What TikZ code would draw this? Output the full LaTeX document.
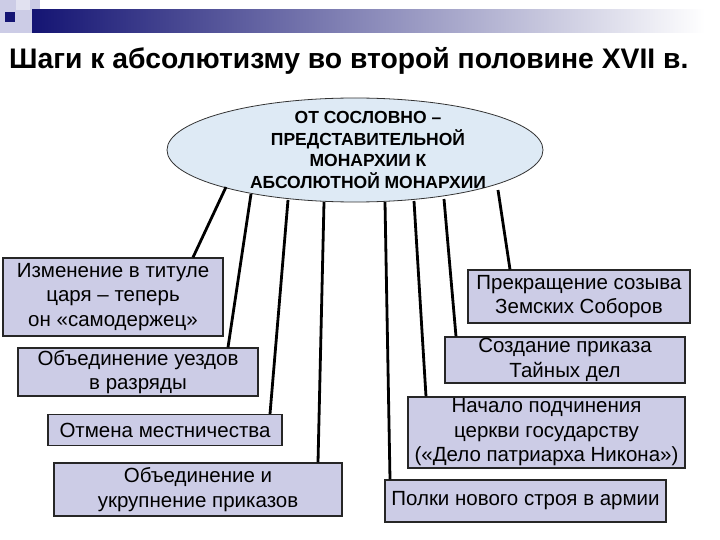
\documentclass[tikz,border=0pt]{standalone}
\usepackage{fontspec}
\setmainfont{Liberation Sans}
\usetikzlibrary{shapes.geometric}
\definecolor{lav}{RGB}{204,204,230}
\definecolor{lavlt}{RGB}{225,225,240}
\definecolor{navy}{RGB}{20,20,115}
\definecolor{elfill}{RGB}{222,234,245}
\begin{document}
\begin{tikzpicture}[x=1pt,y=-1pt,
  box/.style={draw=black!85,fill=lav,line width=1.2pt,inner sep=0pt,align=center,font=\fontsize{20.5}{24.5}\selectfont},
  con/.style={line width=2.8pt,black}]
\useasboundingbox (0,0) rectangle (720,540);
% decoration
\fill[lav] (0,0) rectangle (40,33);
\fill[lavlt] (16,0) rectangle (30,10);
\shade[left color=navy,right color=white] (32,10) rectangle (705,33);
\fill[navy] (5,12) rectangle (15,22);
\node[anchor=base west,inner sep=0pt,font=\bfseries\fontsize{28.3}{32}\selectfont] (title) at (9,69) {Шаги к абсолютизму во второй половине XVII в.};
% ellipse
\node[ellipse,draw=black!80,line width=0.8pt,fill=elfill,minimum width=376pt,minimum height=104pt,inner sep=0pt] (el) at (355,150) {};
\node[align=center,font=\bfseries\fontsize{17.5}{21.5}\selectfont] (eltext) at (368,150) {ОТ СОСЛОВНО –\\ПРЕДСТАВИТЕЛЬНОЙ\\МОНАРХИИ К\\АБСОЛЮТНОЙ МОНАРХИИ};
% boxes
\node[box,minimum width=220pt,minimum height=78pt] (b1) at (113,297) {Изменение в титуле\\царя – теперь\\он «самодержец»};
\node[box,minimum width=240pt,minimum height=48pt] (b2) at (138,372) {Объединение уездов\\в разряды};
\node[box,minimum width=234pt,minimum height=31pt] (b3) at (165,430) {Отмена местничества};
\node[box,minimum width=288pt,minimum height=53pt] (b4) at (198,489.5) {Объединение и\\укрупнение приказов};
\node[box,minimum width=222pt,minimum height=53pt] (b5) at (579,296.5) {Прекращение созыва\\Земских Соборов};
\node[box,minimum width=240pt,minimum height=46pt] (b6) at (565,360) {Создание приказа\\Тайных дел};
\node[box,minimum width=277pt,minimum height=71pt] (b7) at (546.5,432.5) {Начало подчинения\\церкви государству\\(«Дело патриарха Никона»)};
\node[box,minimum width=281pt,minimum height=42pt] (b8) at (525.5,501) {Полки нового строя в армии};
% connectors
\coordinate (s1) at (226,187);
\coordinate (s2) at (251,194);
\coordinate (s3) at (288,200);
\coordinate (s4) at (324,202);
\coordinate (s5) at (385,202);
\coordinate (s6) at (414,201);
\coordinate (s7) at (444,199);
\coordinate (s8) at (498,190);
\draw[con] (s1) -- (b1.north -| 193,0);
\draw[con] (s2) -- (b2.north -| 228,0);
\draw[con] (s3) -- (b3.north -| 270,0);
\draw[con] (s4) -- (b4.north -| 318,0);
\draw[con] (s5) -- (b8.north -| 390,0);
\draw[con] (s6) -- (b7.north -| 426,0);
\draw[con] (s7) -- (b6.north -| 456,0);
\draw[con] (s8) -- (b5.north -| 510,0);
\end{tikzpicture}
\end{document}
